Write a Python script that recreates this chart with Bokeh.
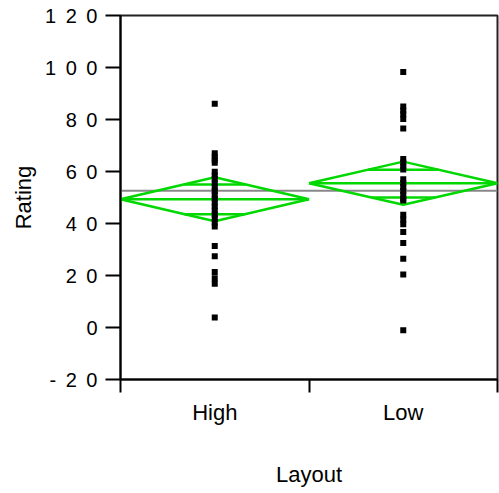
from bokeh.plotting import figure
from bokeh.models import Range1d, FixedTicker
from bokeh.embed import file_html
from bokeh.resources import INLINE

# ---- data ----
categories = ["High", "Low"]
high_ratings = [86.1, 67.0, 65.7, 64.5, 63.4, 59.9, 58.5, 57.0, 55.5, 54.0, 52.5,
                51.0, 49.5, 48.0, 46.5, 45.0, 43.5, 42.0, 40.5, 38.8, 31.3, 27.4,
                21.3, 18.9, 16.8, 3.8]
low_ratings = [98.3, 85.0, 83.5, 82.0, 80.2, 76.5, 64.8, 63.5, 62.0, 60.8, 57.0,
               55.5, 54.0, 52.5, 51.0, 49.5, 48.8, 43.4, 41.5, 39.7, 36.7, 32.5,
               26.4, 20.4, -1.1]
group_means = [49.3, 55.5]
ci_upper = [57.8, 63.8]
ci_lower = [40.9, 47.2]
overlap_upper = [55.0, 60.7]
overlap_lower = [43.6, 50.0]
grand_mean = 52.6
y_ticks = [-20, 0, 20, 40, 60, 80, 100, 120]

GREEN = "#00d800"
FONT = "Liberation Sans"
SP = "\u2008\u2009"

p = figure(width=499, height=493, output_backend="svg", toolbar_location=None,
           x_range=Range1d(0, 2), y_range=Range1d(-20, 120),
           min_border_left=120, min_border_right=2, min_border_top=15,
           min_border_bottom=114)
p.xgrid.visible = False
p.ygrid.visible = False
p.outline_line_color = "#222222"
p.outline_line_width = 2
p.background_fill_color = "white"
p.border_fill_color = "white"

# grand mean line
p.line(x=[0, 2], y=[grand_mean, grand_mean], line_color="#888888", line_width=2)

# means diamonds with overlap marks
xs_d, ys_d = [], []
ox, oy = [], []
for i, cat in enumerate(categories):
    c = i + 0.5
    m, up, lo = group_means[i], ci_upper[i], ci_lower[i]
    xs_d.append([i, c, i + 1, c, i])
    ys_d.append([m, up, m, lo, m])
    ox.append([i, i + 1]); oy.append([m, m])
    fu = 0.5 * (1 - (overlap_upper[i] - m) / (up - m))
    fl = 0.5 * (1 - (m - overlap_lower[i]) / (m - lo))
    ox.append([c - fu, c + fu]); oy.append([overlap_upper[i], overlap_upper[i]])
    ox.append([c - fl, c + fl]); oy.append([overlap_lower[i], overlap_lower[i]])
p.multi_line(xs=xs_d, ys=ys_d, line_color=GREEN, line_width=2.5)
p.multi_line(xs=ox, ys=oy, line_color=GREEN, line_width=2.5)

# data points
px = [0.5] * len(high_ratings) + [1.5] * len(low_ratings)
py = high_ratings + low_ratings
p.scatter(x=px, y=py, marker="square", size=6, fill_color="black", line_color=None)

# x axis: labels at category centres, ticks at boundaries
xa = p.xaxis[0]
xa.ticker = FixedTicker(ticks=[0.5, 1.5], minor_ticks=[0, 1, 2])
xa.major_label_overrides = {0.5: categories[0], 1.5: categories[1]}
xa.major_tick_out = 0
xa.major_tick_in = 0
xa.minor_tick_out = 13
xa.minor_tick_in = 0
xa.minor_tick_line_color = "black"
xa.minor_tick_line_width = 2
xa.axis_line_color = "black"
xa.axis_line_width = 2
xa.major_label_standoff = 7
xa.major_label_text_font = FONT
xa.major_label_text_font_size = "22px"
xa.major_label_text_color = "black"
xa.axis_label = "Layout"
xa.axis_label_text_font = FONT
xa.axis_label_text_font_size = "22px"
xa.axis_label_text_font_style = "normal"
xa.axis_label_text_color = "black"
xa.axis_label_standoff = 34

# y axis
ya = p.yaxis[0]
ya.ticker = FixedTicker(ticks=y_ticks, minor_ticks=[])
ya.major_label_overrides = {t: SP.join(str(t)) for t in y_ticks}
ya.major_tick_out = 15
ya.major_tick_in = 0
ya.major_tick_line_color = "black"
ya.major_tick_line_width = 2
ya.axis_line_color = "black"
ya.axis_line_width = 2
ya.major_label_standoff = 8
ya.major_label_text_font = FONT
ya.major_label_text_font_size = "20px"
ya.major_label_text_color = "black"
ya.axis_label = "Rating"
ya.axis_label_text_font = FONT
ya.axis_label_text_font_size = "22px"
ya.axis_label_text_font_style = "normal"
ya.axis_label_text_color = "black"
ya.axis_label_standoff = 6

open("out.html", "w").write(file_html(p, INLINE))
